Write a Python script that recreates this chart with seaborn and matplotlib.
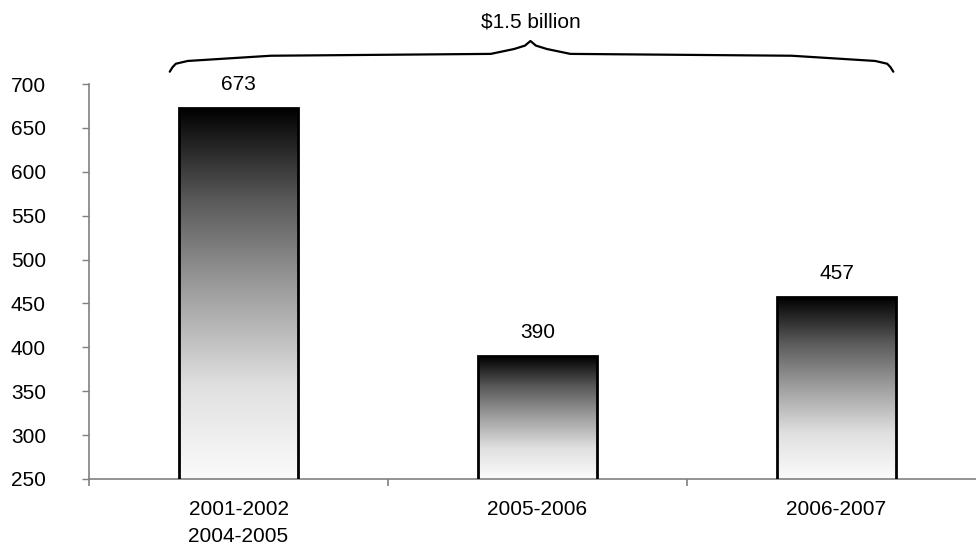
import numpy as np
import seaborn as sns
import matplotlib.pyplot as plt
import pandas as pd
from matplotlib.colors import LinearSegmentedColormap

periods = ["2001-2002\n2004-2005", "2005-2006", "2006-2007"]
amounts = [673, 390, 457]
total_label = "$1.5 billion"

sns.set_style("white")
plt.rcParams['font.family'] = ['Liberation Sans', 'DejaVu Sans']
plt.rcParams['text.color'] = 'black'
plt.rcParams['xtick.color'] = 'black'
plt.rcParams['ytick.color'] = 'black'
fs = 15

df = pd.DataFrame({'period': periods, 'amount': amounts})

fig = plt.figure(figsize=(9.76, 5.5), dpi=100)
ax = fig.add_axes([89 / 976, 71 / 550, 897 / 976, 395 / 550])

sns.barplot(data=df, x='period', y='amount', color='white', width=0.4,
            edgecolor='black', linewidth=2, ax=ax, zorder=3)

ymin, ymax = 250, 700
# black at the top fading to almost white at the bottom
cmap = LinearSegmentedColormap.from_list(
    'bw', [(0.0, '#000000'), (0.25, '#5a5a5a'), (0.5, '#a0a0a0'),
           (0.75, '#e0e0e0'), (1.0, '#fbfbfb')])
grad = np.linspace(0, 1, 256).reshape(-1, 1)
for bar in ax.patches:
    x, w, top = bar.get_x(), bar.get_width(), bar.get_height()
    im = ax.imshow(grad, extent=[x, x + w, ymin, top], aspect='auto',
                   cmap=cmap, zorder=2, origin='upper')
    im.set_clip_path(bar)
    bar.set_facecolor('none')
    ax.annotate(f"{top:.0f}", (x + w / 2, top), xytext=(0, 10),
                textcoords='offset points', ha='center', va='bottom',
                fontsize=fs)

ax.set_xlim(-0.5, len(periods) - 0.5)
ax.set_ylim(ymin, ymax)
ax.set_yticks(range(250, 701, 50))
ax.set_xticks(range(len(periods)))
ax.set_xticklabels(periods, linespacing=1.55)
ax.set_xticks(np.arange(-0.5, len(periods), 1), minor=True)
ax.set_xlabel('')
ax.set_ylabel('')

for s in ['top', 'right']:
    ax.spines[s].set_visible(False)
for s in ['left', 'bottom']:
    ax.spines[s].set_color('#808080')
    ax.spines[s].set_linewidth(1.2)

ax.tick_params(axis='y', which='major', left=True, length=5, width=1,
               color='#808080', labelsize=fs, pad=26)
ax.tick_params(axis='x', which='major', bottom=False, length=0,
               labelsize=fs, pad=15)
ax.tick_params(axis='x', which='minor', bottom=True, length=5, width=1.2,
               color='#808080')


def draw_brace(ax, x0, x1, y0, y1):
    # half-brace outline, end -> center
    u = np.array([0, 0.008, 0.017, 0.05, 0.28, 0.89, 0.955, 0.985, 1.0])
    v = np.array([0, 0.15, 0.26, 0.35, 0.52, 0.58, 0.74, 0.85, 1.0])
    xc = x0 + (x1 - x0) * 0.4985
    left_x = x0 + u * (xc - x0)
    right_x = x1 - u * (x1 - xc)
    ys = y0 + v * (y1 - y0)
    bx = np.concatenate([left_x, right_x[::-1]])
    by = np.concatenate([ys, ys[::-1]])
    ax.plot(bx, by, color='black', lw=1.6, clip_on=False,
            solid_joinstyle='round', solid_capstyle='round')
    return xc


xc = draw_brace(ax, -0.23, len(periods) - 1 + 0.19, 714, 749)
ax.text(xc, 771, total_label, ha='center', va='center', fontsize=fs,
        clip_on=False)

fig.savefig('out.png', dpi=100)
